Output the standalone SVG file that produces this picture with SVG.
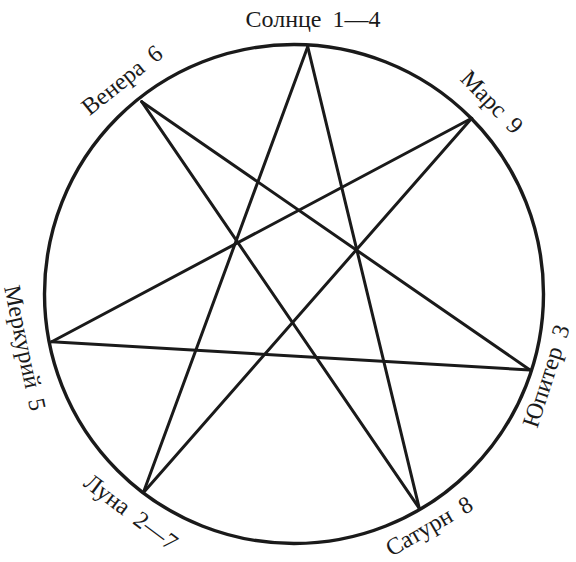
<svg xmlns="http://www.w3.org/2000/svg" width="576" height="562" viewBox="0 0 576 562">
<style>
.ring{fill:none;stroke:#1a1a1a;stroke-width:3.4}
.edge{fill:none;stroke:#1a1a1a;stroke-width:3;stroke-linecap:round}
.lbl{font-family:"Liberation Serif","Times New Roman",serif;font-size:24px;fill:#1a1a1a;text-anchor:middle;word-spacing:5px}
</style>
<rect width="576" height="562" fill="#ffffff"/>
<circle class="ring" cx="294" cy="294" r="249.5"/>
<g id="connectors">
<line class="edge" x1="307.7" y1="46.7" x2="419.3" y2="508.3"/>
<line class="edge" x1="307.7" y1="46.7" x2="143.3" y2="492.7"/>
<line class="edge" x1="141.7" y1="101.7" x2="530" y2="370"/>
<line class="edge" x1="141.7" y1="101.7" x2="419.3" y2="508.3"/>
<line class="edge" x1="471.7" y1="118.3" x2="51.7" y2="341.7"/>
<line class="edge" x1="471.7" y1="118.3" x2="143.3" y2="492.7"/>
<line class="edge" x1="51.7" y1="341.7" x2="530" y2="370"/>
</g>
<g id="sun"><text class="lbl" x="313" y="27">Солнце 1—4</text></g>
<g id="venus" transform="translate(122,80) rotate(-38.7)"><text class="lbl" x="0" y="8">Венера 6</text></g>
<g id="mars" transform="translate(492,102) rotate(45.7)"><text class="lbl" x="0" y="8">Марс 9</text></g>
<g id="jupiter" transform="translate(546,376) rotate(-72)"><text class="lbl" x="0" y="8">Юпитер 3</text></g>
<g id="saturn" transform="translate(429,526) rotate(-30)"><text class="lbl" x="0" y="8">Сатурн 8</text></g>
<g id="luna" transform="translate(131,512) rotate(37)"><text class="lbl" x="0" y="8">Луна 2—7</text></g>
<g id="mercury" transform="translate(25,348) rotate(78)"><text class="lbl" x="0" y="8">Меркурий 5</text></g>
</svg>
